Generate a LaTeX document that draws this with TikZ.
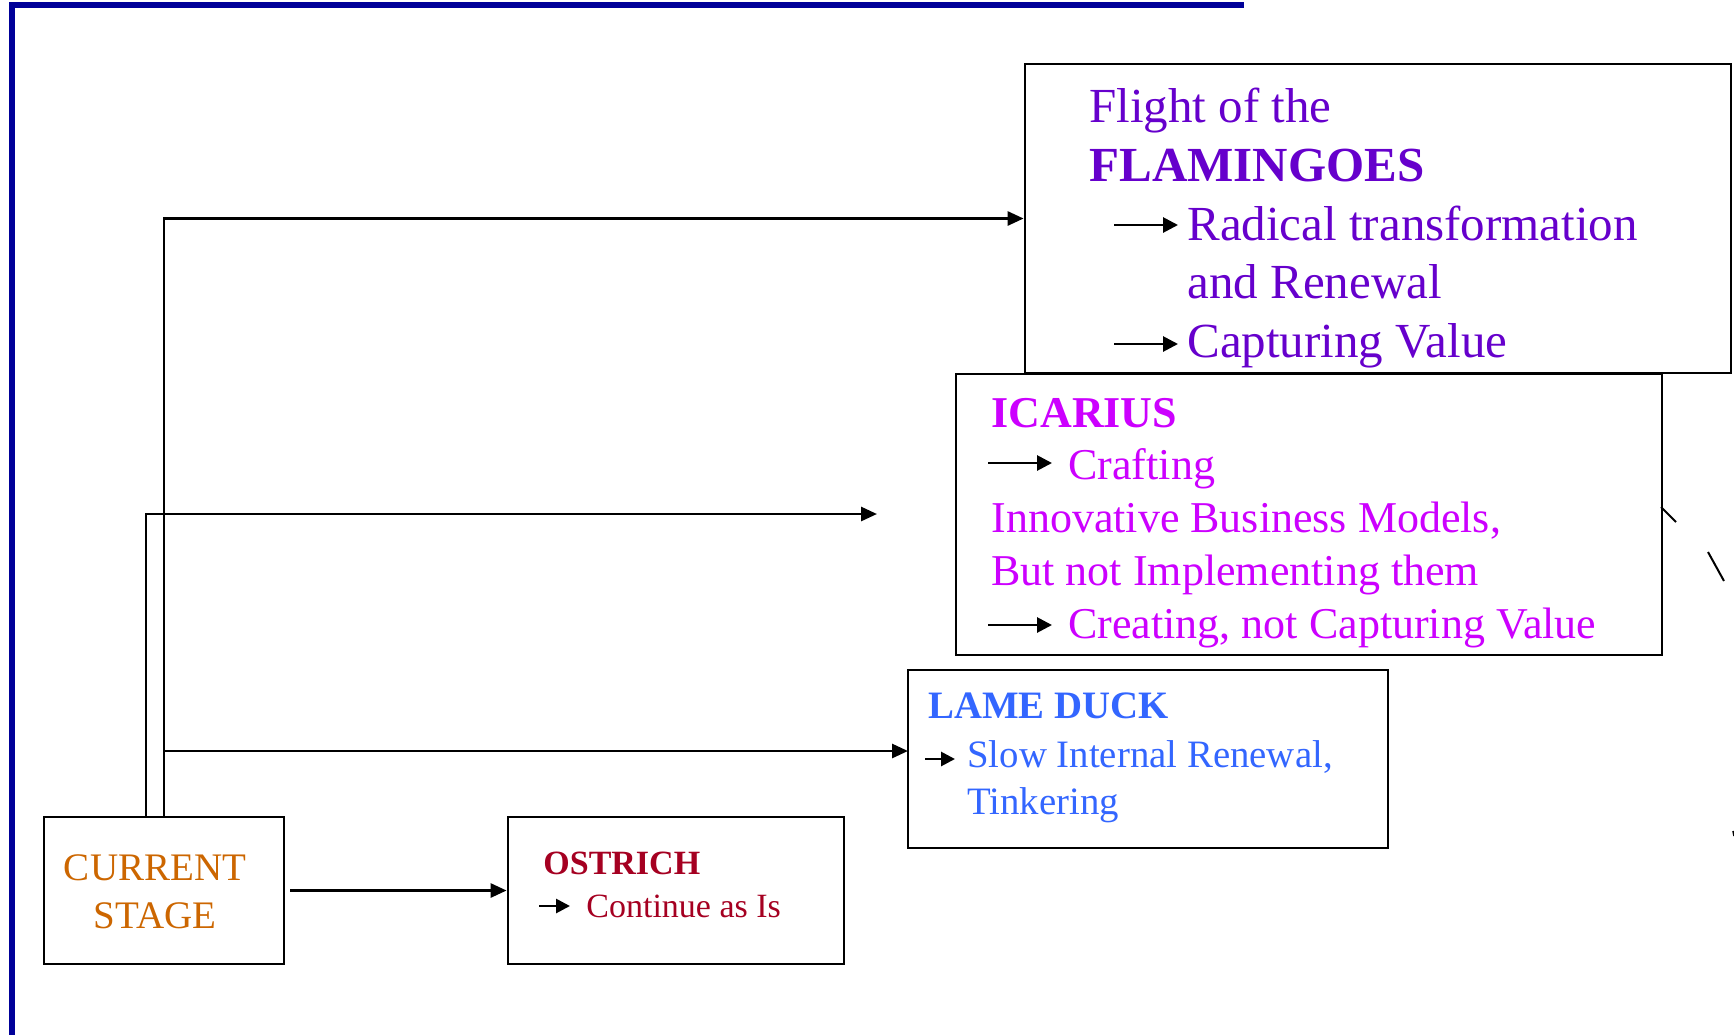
\documentclass[tikz,border=0pt]{standalone}
\usepackage{fontspec}
\setmainfont{Liberation Serif}
\usetikzlibrary{arrows.meta}
\definecolor{flamc}{HTML}{6600CC}
\definecolor{icac}{HTML}{CC00FF}
\definecolor{lamec}{HTML}{3366FF}
\definecolor{ostc}{HTML}{A50021}
\definecolor{curc}{HTML}{CC6600}
\definecolor{framec}{HTML}{000099}
\tikzset{
  box/.style={draw=black, line width=1.4pt, rectangle, inner sep=0pt},
  conn/.style={draw=black, line width=1.4pt, -{Triangle[length=8pt,width=7pt]}},
  bullet/.style={draw=black, line width=1.4pt, -{Triangle[length=7.5pt,width=7.5pt]}},
  smallbullet/.style={draw=black, line width=1.4pt, -{Triangle[length=7pt,width=7pt]}},
  txt/.style={inner sep=0pt, anchor=base west},
  flamt/.style={txt, text=flamc, font=\fontsize{24.5pt}{29pt}\selectfont},
  icat/.style={txt, text=icac, font=\fontsize{22pt}{26pt}\selectfont},
  lamet/.style={txt, text=lamec, font=\fontsize{19.4pt}{23pt}\selectfont},
  ostt/.style={txt, text=ostc, font=\fontsize{17pt}{20pt}\selectfont},
  curt/.style={inner sep=0pt, anchor=base, text=curc, font=\fontsize{19.5pt}{23pt}\selectfont},
}
\begin{document}
\begin{tikzpicture}[x=0.5pt, y=-0.5pt]
\useasboundingbox (0,0) rectangle (1734,1034);
% frame
\draw[framec, line width=2.8pt] (12,1040) -- (12,5) -- (1244,5);

% boxes
\node[box, minimum width=353pt, minimum height=154.5pt] (flam) at (1378,218.5) {};
\node[box, minimum width=353pt, minimum height=140.5pt] (ica) at (1309,514.5) {};
\node[box, minimum width=240pt, minimum height=89pt] (lame) at (1148,759) {};
\node[box, minimum width=120pt, minimum height=73.5pt] (cur) at (164,890.5) {};
\node[box, minimum width=168pt, minimum height=73.5pt] (ost) at (676,890.5) {};

% flamingo text
\node[flamt] (f1) at (1089,122) {Flight of the};
\node[flamt, font=\fontsize{24.5pt}{29pt}\selectfont\bfseries] (f2) at (1089,181) {FLAMINGOES};
\coordinate (fa1s) at (1114,225); \coordinate (fa1e) at (1178,225);
\draw[bullet] (fa1s) -- (fa1e);
\node[flamt] (f3) at (1187,240) {Radical transformation};
\node[flamt] (f4) at (1187,298) {and Renewal};
\coordinate (fa2s) at (1114,344); \coordinate (fa2e) at (1178,344);
\draw[bullet] (fa2s) -- (fa2e);
\node[flamt] (f5) at (1187,357) {Capturing Value};

% icarius text
\node[icat, font=\fontsize{22pt}{26pt}\selectfont\bfseries] (i1) at (991,427) {ICARIUS};
\coordinate (ia1s) at (988,463); \coordinate (ia1e) at (1052,463);
\draw[bullet] (ia1s) -- (ia1e);
\node[icat] (i2) at (1068,479) {Crafting};
\node[icat] (i3) at (991,532) {Innovative Business Models,};
\node[icat] (i4) at (991,585) {But not Implementing them};
\coordinate (ia2s) at (988,625); \coordinate (ia2e) at (1052,625);
\draw[bullet] (ia2s) -- (ia2e);
\node[icat] (i5) at (1068,638) {Creating, not Capturing Value};

% lame duck text
\node[lamet, font=\fontsize{19.4pt}{23pt}\selectfont\bfseries] (l1) at (928,718) {LAME DUCK};
\coordinate (la1s) at (925,759); \coordinate (la1e) at (955,759);
\draw[smallbullet] (la1s) -- (la1e);
\node[lamet] (l2) at (967,767) {Slow Internal Renewal,};
\node[lamet] (l3) at (967,814) {Tinkering};

% current stage text
\node[curt] (c1) at (155,880) {CURRENT};
\node[curt] (c2) at (155,928) {STAGE};

% ostrich text
\node[ostt, font=\fontsize{17pt}{20pt}\selectfont\bfseries] (o1) at (543,874) {OSTRICH};
\coordinate (oa1s) at (539,906); \coordinate (oa1e) at (570,906);
\draw[smallbullet] (oa1s) -- (oa1e);
\node[ostt] (o2) at (586,917) {Continue as Is};

% connectors
\coordinate (icend) at (877,514);
\coordinate (lamein) at (908,751);
\coordinate (curleft) at (146,817);
\draw[conn] (cur.north) |- (flam.west);
\draw[conn] (curleft) |- (icend);
\draw[conn] (cur.north |- lamein) -- (lamein);
\draw[conn] ([xshift=2.5pt]cur.east) -- (ost.west);

% stray marks
\draw[black, line width=1pt] (1661,507) -- (1676,522);
\draw[black, line width=1pt] (1708,552) -- (1724,581);
\draw[black, line width=0.8pt] (1733,831) -- (1734,836);
\end{tikzpicture}
\end{document}
